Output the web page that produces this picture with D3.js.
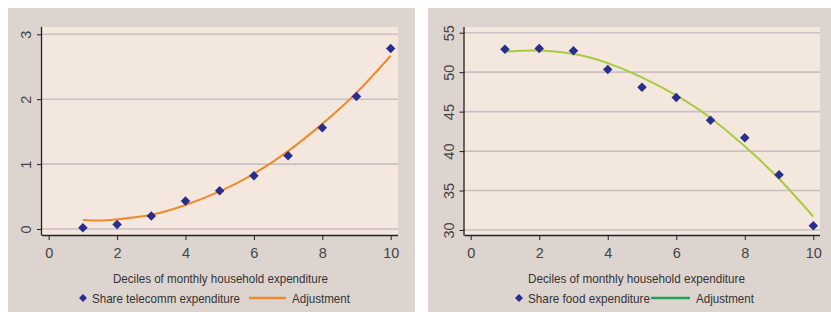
<!DOCTYPE html>
<html><head><meta charset="utf-8">
<script src="https://cdn.jsdelivr.net/npm/d3@7"></script>
<style>body{margin:0;background:#fff;} svg{display:block;} text{font-family:"Liberation Sans",Arial,sans-serif;fill:#3a3a3a;}</style>
</head><body>
<svg id="c" width="831" height="312"></svg>
<script>
const deciles = [1,2,3,4,5,6,7,8,9,10];
const xTicks = [0,2,4,6,8,10];
// Left panel: share of telecom expenditure
const telecomShare = [0.02,0.07,0.20,0.43,0.59,0.82,1.13,1.56,2.04,2.78];
const telecomFitX = [1,1.5,2,3,4,5,6,7,8,9,10];
const telecomFit = [0.14,0.13,0.15,0.22,0.37,0.58,0.85,1.20,1.62,2.10,2.67];
const telecomYTicks = [0,1,2,3];
// Right panel: share of food expenditure
const foodShare = [52.9,53.0,52.7,50.35,48.1,46.8,43.9,41.7,37.0,30.55];
const foodFitX = [1,1.5,2,3,4,5,6,7,8,9,10];
const foodFit = [52.6,52.72,52.74,52.3,51.15,49.35,47.05,44.2,40.6,36.5,31.7];
const foodYTicks = [30,35,40,45,50,55];

const svg = d3.select("#c");

function panel(o){
  const g = svg.append("g");
  g.append("rect").attr("x",o.bx).attr("y",8).attr("width",o.bw).attr("height",304).attr("fill","#ddd4d0");
  const x = d3.scaleLinear().domain([0,10]).range([o.x0,o.x10]);
  const y = d3.scaleLinear().domain(o.ydom).range(o.yrange);
  g.append("rect").attr("x",o.px0).attr("y",27).attr("width",o.px1-o.px0).attr("height",235-27).attr("fill","#f4e7de");
  g.selectAll(".grid").data(o.yTicks).join("line")
    .attr("x1",o.px0).attr("x2",o.px1).attr("y1",d=>y(d)).attr("y2",d=>y(d))
    .attr("stroke","#c9bfc4").attr("stroke-width",1.6);
  const yAxis = d3.axisLeft(y).tickValues(o.yTicks).tickFormat(d3.format("d")).tickSize(5).tickPadding(4);
  const ga = g.append("g").attr("transform",`translate(${o.px0},0)`).call(yAxis);
  ga.select(".domain").attr("d",`M-0.5,27V235.5`).attr("stroke","#222").attr("stroke-width",1.3);
  ga.selectAll(".tick line").attr("stroke","#222");
  ga.selectAll(".tick text").attr("transform","rotate(-90)").attr("x",0).attr("y",-16).attr("dy","0.35em")
    .attr("text-anchor","middle").style("font-size","14.5px").style("fill","#444");
  const xAxis = d3.axisBottom(x).tickValues(xTicks).tickFormat(d3.format("d")).tickSize(5).tickPadding(8);
  const gx = g.append("g").attr("transform",`translate(0,235)`).call(xAxis);
  gx.select(".domain").attr("d",`M${o.px0},0.5H${o.px1}`).attr("stroke","#222").attr("stroke-width",1.3);
  gx.selectAll(".tick line").attr("stroke","#222");
  gx.selectAll(".tick text").style("font-size","14.5px").style("fill","#444");
  const line = d3.line().x((d,i)=>x(o.fitX[i])).y(d=>y(d)).curve(d3.curveNatural);
  g.append("path").attr("d",line(o.fit)).attr("fill","none").attr("stroke",o.fitColor).attr("stroke-width",2);
  const sym = d3.symbol().type(d3.symbolDiamond2).size(58);
  g.selectAll(".pt").data(o.vals).join("path")
    .attr("transform",(d,i)=>`translate(${x(deciles[i])},${y(d)})`)
    .attr("d",sym).attr("fill","#2a2d90");
  g.append("text").attr("x",o.titleX).attr("y",283).attr("text-anchor","middle")
    .attr("textLength",o.titleW).attr("lengthAdjust","spacingAndGlyphs")
    .style("font-size","13.5px").style("fill","#333").text("Deciles of monthly household expenditure");
  g.append("path").attr("transform",`translate(${o.lg[0]},298)`).attr("d",d3.symbol().type(d3.symbolDiamond2).size(40)).attr("fill","#2a2d90");
  g.append("text").attr("x",o.lg[0]+9).attr("y",303).attr("textLength",o.labelW).attr("lengthAdjust","spacingAndGlyphs")
    .style("font-size","13.5px").style("fill","#333").text(o.label);
  g.append("line").attr("x1",o.lg[1]).attr("x2",o.lg[2]).attr("y1",298).attr("y2",298).attr("stroke",o.legColor).attr("stroke-width",2.5);
  g.append("text").attr("x",o.lg[2]+6).attr("y",303).attr("textLength",58).attr("lengthAdjust","spacingAndGlyphs")
    .style("font-size","13.5px").style("fill","#333").text("Adjustment");
}

panel({bx:8,bw:407,x0:48.7,x10:390.7,px0:42,px1:398,ydom:[0,3],yrange:[229,34.3],yTicks:telecomYTicks,
  vals:telecomShare,fitX:telecomFitX,fit:telecomFit,fitColor:"#f08a2e",legColor:"#f08a2e",
  titleX:220.5,titleW:215,lg:[83,249,286],label:"Share telecomm expenditure",labelW:148});
panel({bx:428,bw:403,x0:470.7,x10:813.3,px0:464.5,px1:820,ydom:[30,55],yrange:[230,32.7],yTicks:foodYTicks,
  vals:foodShare,fitX:foodFitX,fit:foodFit,fitColor:"#a6cb3e",legColor:"#1fa352",
  titleX:636.5,titleW:217,lg:[519,651,690],label:"Share food expenditure",labelW:122});
</script>
</body></html>
